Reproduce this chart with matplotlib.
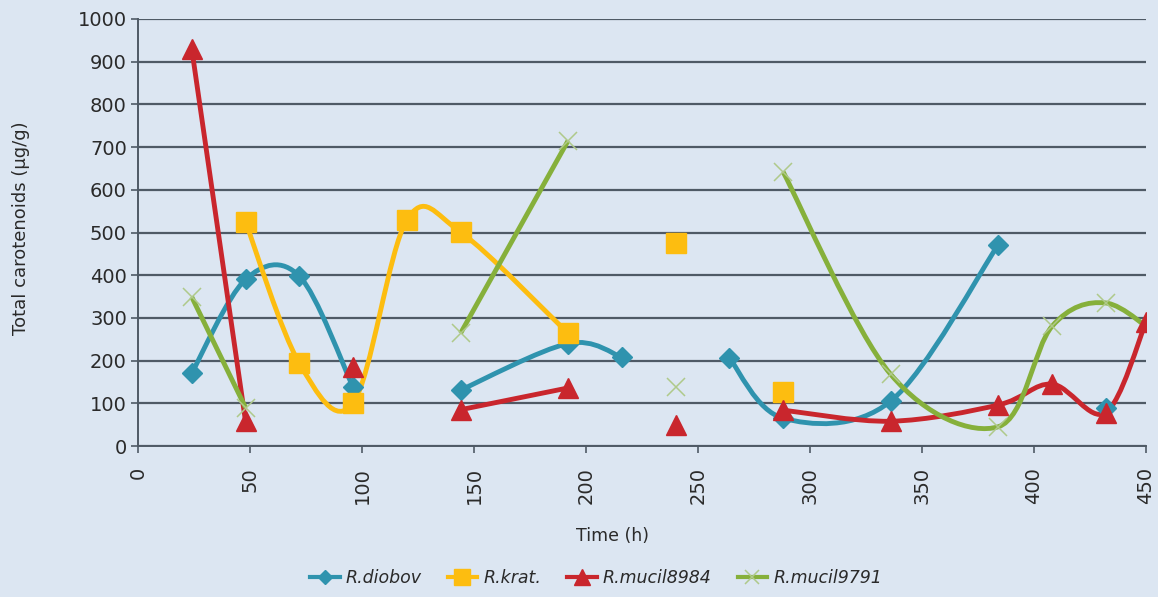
import matplotlib
matplotlib.use("Agg")
import matplotlib.pyplot as plt
from matplotlib.path import Path
from matplotlib.patches import PathPatch
from matplotlib.lines import Line2D

# ---- data (None = break in the line) ----
series_names = ["R.diobov", "R.krat.", "R.mucil8984", "R.mucil9791"]

time_diobov = [24, 48, 72, 96, None, 144, 192, 216, None, 264, 288, 336, 384, None, 432]
val_diobov = [171, 390, 398, 138, None, 131, 240, 208, None, 206, 65, 105, 471, None, 90]

time_krat = [48, 72, 96, 120, 144, 192, None, 240, None, 288]
val_krat = [525, 194, 100, 529, 501, 264, None, 475, None, 126]

time_m8984 = [24, 48, None, 96, None, 144, 192, None, 240, None, 288, 336, 384, 408, 432, 450]
val_m8984 = [930, 58, None, 185, None, 85, 136, None, 49, None, 84, 58, 96, 145, 78, 290]

time_m9791 = [24, 48, None, 144, 192, None, 240, None, 288, 336, 384, 408, 432, 456]
val_m9791 = [349, 90, None, 264, 715, None, 139, None, 642, 168, 45, 280, 335, 255]

x_ticks = [0, 50, 100, 150, 200, 250, 300, 350, 400, 450]
y_ticks = [0, 100, 200, 300, 400, 500, 600, 700, 800, 900, 1000]

FONT = "DejaVu Sans"
BG = "#DCE6F2"
GRID = "#4F5A66"
TXT = "#2A2A2A"

styles = [
    dict(color="#2F93AE", marker="D", ms=10, mfc="#2F93AE", mec="#2F93AE", mew=1),
    dict(color="#FDBD10", marker="s", ms=15, mfc="#FDBD10", mec="#FDBD10", mew=1),
    dict(color="#C9262D", marker="^", ms=15, mfc="#C9262D", mec="#C9262D", mew=1),
    dict(color="#86B03B", marker="x", ms=13, mfc="none", mec="#AFC98A", mew=1.1),
]


def segments(xs, ys):
    segs, cx, cy = [], [], []
    for x, y in zip(xs, ys):
        if x is None:
            if cx:
                segs.append((cx, cy))
            cx, cy = [], []
        else:
            cx.append(x)
            cy.append(y)
    if cx:
        segs.append((cx, cy))
    return segs


def smooth_path(xs, ys):
    pts = list(zip(xs, ys))
    n = len(pts)
    verts = [pts[0]]
    codes = [Path.MOVETO]
    for i in range(n - 1):
        p0 = pts[i - 1] if i > 0 else pts[i]
        p1 = pts[i]
        p2 = pts[i + 1]
        p3 = pts[i + 2] if i + 2 < n else pts[i + 1]
        c1 = (p1[0] + (p2[0] - p0[0]) / 6.0, p1[1] + (p2[1] - p0[1]) / 6.0)
        c2 = (p2[0] - (p3[0] - p1[0]) / 6.0, p2[1] - (p3[1] - p1[1]) / 6.0)
        verts += [c1, c2, p2]
        codes += [Path.CURVE4] * 3
    return Path(verts, codes)


fig = plt.figure(figsize=(11.58, 5.97), dpi=100)
fig.patch.set_facecolor(BG)
ax = fig.add_axes([138 / 1158, 1 - 446 / 597, (1146 - 138) / 1158, (446 - 19) / 597])
ax.set_facecolor(BG)

data = [(time_diobov, val_diobov), (time_krat, val_krat),
        (time_m8984, val_m8984), (time_m9791, val_m9791)]

for (xs, ys), st in zip(data, styles):
    for sx, sy in segments(xs, ys):
        if len(sx) > 1:
            patch = PathPatch(smooth_path(sx, sy), facecolor="none",
                              edgecolor=st["color"], lw=3.5, zorder=3,
                              joinstyle="round", capstyle="butt")
            ax.add_patch(patch)
        ax.plot(sx, sy, linestyle="none", marker=st["marker"], ms=st["ms"],
                mfc=st["mfc"], mec=st["mec"], mew=st["mew"], zorder=4)

ax.set_xlim(0, 450)
ax.set_ylim(0, 1000)
ax.set_xticks(x_ticks)
ax.set_yticks(y_ticks)
ax.set_xticklabels([str(t) for t in x_ticks], rotation=90, fontsize=14,
                   family=FONT, color=TXT)
ax.set_yticklabels([str(t) for t in y_ticks], fontsize=14, family=FONT,
                   color=TXT)
ax.tick_params(axis="both", direction="out", length=5, width=1.2, color=GRID)
ax.tick_params(axis="y", pad=3)
ax.tick_params(axis="x", pad=10)

ax.grid(axis="y", color=GRID, lw=1.6, zorder=1)
ax.set_axisbelow(True)
for s in ["top", "right"]:
    ax.spines[s].set_visible(False)
for s in ["left", "bottom"]:
    ax.spines[s].set_color(GRID)
    ax.spines[s].set_linewidth(1.4)

ax.set_ylabel("Total carotenoids (µg/g)", fontsize=13, family=FONT, color=TXT)
ax.yaxis.set_label_coords(-0.107, 0.51)
ax.set_xlabel("Time (h)", fontsize=12.5, family=FONT, color=TXT)
ax.xaxis.set_label_coords(0.471, -0.19)

handles = []
for name, st in zip(series_names, styles):
    handles.append(Line2D([], [], color=st["color"], lw=3, marker=st["marker"],
                          ms=st["ms"] * 0.75, mfc=st["mfc"], mec=st["mec"],
                          mew=st["mew"], label=name))
leg = fig.legend(handles=handles, loc="center", bbox_to_anchor=(596 / 1158, 1 - 578 / 597),
                 ncol=4, frameon=False, handlelength=1.7, handletextpad=0.35,
                 columnspacing=1.5, prop=dict(family=FONT, size=12.5, style="italic"))
for t in leg.get_texts():
    t.set_color(TXT)

fig.savefig("out.png", dpi=100, facecolor=BG)
